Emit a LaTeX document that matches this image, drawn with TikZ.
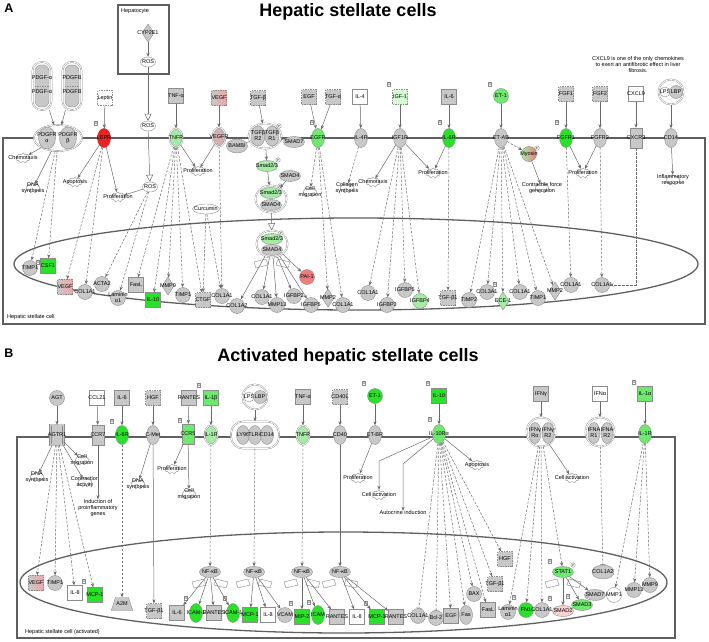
\documentclass[tikz,border=0pt]{standalone}
\usepackage{fontspec}
\setmainfont{Liberation Sans}
\usetikzlibrary{shapes.geometric,shapes.symbols,arrows.meta}
\definecolor{gfill}{RGB}{200,200,200}
\definecolor{gline}{RGB}{140,140,140}
\definecolor{edge}{RGB}{105,105,105}
\definecolor{wall}{RGB}{95,95,95}
\definecolor{hiG}{RGB}{40,225,40}
\definecolor{midG}{RGB}{110,232,110}
\definecolor{loG}{RGB}{165,235,165}
\definecolor{paleG}{RGB}{212,250,212}
\definecolor{hiR}{RGB}{235,35,35}
\definecolor{loR}{RGB}{240,125,125}
\newcommand{\lbl}{\fontsize{5.5}{6}\selectfont}

\begin{document}
\begin{tikzpicture}[x=1pt, y=-1pt,
	gc/.style={circle, fill=gfill, draw=gline, minimum size=15pt, inner sep=0pt},
	ge/.style={ellipse, fill=gfill, draw=gline, minimum width=13pt, minimum height=19pt, inner sep=0pt},
	gh/.style={ellipse, fill=gfill, draw=gline, minimum width=21pt, minimum height=11pt, inner sep=0pt},
	gb/.style={rectangle, fill=gfill, draw=gline, minimum size=15pt, inner sep=0pt},
	gd/.style={diamond, fill=gfill, draw=gline, minimum width=12pt, minimum height=18pt, inner sep=0pt},
	gt/.style={trapezium, trapezium left angle=72, trapezium right angle=72, fill=gfill, draw=gline, minimum width=15pt, minimum height=13pt, inner sep=1pt},
	wc/.style={ellipse, fill=white, draw=gline, minimum width=15pt, minimum height=10pt, inner sep=0pt},
	rc/.style={ellipse, fill=white, draw=gline, double=white, double distance=0.8pt, inner sep=0pt},
	cx/.style={rectangle, rounded corners=9pt, fill=white, draw=gline, double=white, double distance=0.8pt, inner sep=0pt},
	cxin/.style={rectangle, rounded corners=6pt, fill=gfill, draw=gline, inner sep=0pt},
	ring/.style={double=white, double distance=0.8pt},
	dsh/.style={dash pattern=on 1.5pt off 1pt},
	proc/.style={cloud, cloud puffs=9, aspect=1.3, fill=white, draw=gline, minimum width=14pt, minimum height=10pt, inner sep=0pt},
	num/.style={rectangle, fill=white, draw=gline, font=\fontsize{3.5}{4}\selectfont, inner sep=0.6pt},
	pm/.style={circle, fill=white, draw=gline, font=\fontsize{3}{3}\selectfont, inner sep=0.3pt, minimum size=4.5pt},
	txt/.style={font=\lbl, align=center, inner sep=0pt},
	ttl/.style={font=\fontsize{18}{20}\selectfont\bfseries},
	tag/.style={font=\fontsize{12.5}{14}\selectfont\bfseries},
	wallline/.style={draw=wall, line width=1.3pt},
	wing/.style={draw=gline, fill=white, line width=0.4pt},
	act/.style={draw=edge, line width=0.5pt, -{Stealth[length=4pt, width=3.2pt]}},
	dact/.style={act, dash pattern=on 2.5pt off 1.5pt},
	inh/.style={draw=edge, line width=0.5pt, -{Bar[width=5pt]}},
	dinh/.style={inh, dash pattern=on 2.5pt off 1.5pt},
	opn/.style={draw=edge, line width=0.5pt, -{Triangle[open, length=7pt, width=7pt]}},
	lnk/.style={draw=edge, line width=0.5pt},
	every label/.style={font=\lbl, align=center, inner sep=0pt},
	dna/.pic={\draw[wing] (-18,0) -- (-6,-3) -- (-4,3) -- (-16,6) -- cycle; \draw[wing] (18,0) -- (6,-3) -- (4,3) -- (16,6) -- cycle;}
]

\useasboundingbox (0,0) rectangle (709,642);

\node at (9,8) (tagA) [tag] {A};
\node at (348,12) (ttlA) [ttl] {Hepatic stellate cells};
\draw[wallline] (3,138) rectangle (705,324);
\draw[wallline] (356,264) ellipse [x radius=342pt, y radius=46pt];
\node at (7,317) (cellA) [txt, anchor=west] {Hepatic stellate cell};
\node at (143.5,39.5) (hepat) [draw=wall, line width=1.2pt, minimum width=51pt, minimum height=69pt, inner sep=0pt] {};
\node at (121,11) (hepatl) [txt, anchor=west] {Hepatocyte};
\node at (148,33) (cyp) [gd, label=center:CYP2E1] {};
\node at (148,62) (rosh) [wc, label=center:ROS] {};
\node at (148,126) (rosm) [wc, label=center:ROS] {};
\node at (150,187) (rosc) [wc, label=center:ROS] {};

\node at (42,86) (pdgfa) [cx, minimum width=19pt, minimum height=48pt] {};
\node at (42,86) (pdgfai) [cxin, minimum width=14pt, minimum height=42pt] {};
\node at (42,78) (pdgfa1) [txt] {PDGF-α};
\node at (42,92) (pdgfa2) [txt] {PDGF-α};
\node at (72,86) (pdgfb) [cx, minimum width=19pt, minimum height=48pt] {};
\node at (72,86) (pdgfbi) [cxin, minimum width=14pt, minimum height=42pt] {};
\node at (72,78) (pdgfb1) [txt] {PDGFB};
\node at (72,92) (pdgfb2) [txt] {PDGFB};
\draw[draw=gline, dsh] (pdgfai.west) -- (pdgfai.east);
\draw[draw=gline, dsh] (pdgfbi.west) -- (pdgfbi.east);
\node at (58,138) (pdgfr) [rc, minimum width=48pt, minimum height=26pt] {};
\node at (47,138) (pdgfra) [ge, minimum width=17pt, minimum height=22pt, label={center:PDGFR\\α}] {};
\node at (68,138) (pdgfrb) [ge, minimum width=17pt, minimum height=22pt, label={center:PDGFR\\β}] {};

\node at (96,123) (nA1) [num] {1};
\node at (105,98) (leptin) [gb, fill=white, dsh, label=center:Leptin] {};
\node at (104,138) (lepr) [ge, fill=hiR, draw=hiR!80!black, label=center:LEPR] {};
\node at (176,96) (tnfa) [gb, label=center:TNF-α] {};
\node at (176,138) (tnfr) [ge, ring, fill=loG, label=center:TNFR] {};
\node at (219,98) (vegf) [gb, dsh, left color=gfill, right color=loR!70, label=center:VEGF] {};
\node at (219,137) (vegfr) [ge, ring, fill=gfill!70!loR, label=center:VEGFR] {};
\node at (237,146) (bambi) [gh, minimum height=14pt, label=center:BAMBI] {};
\node at (258,98) (tgfb) [gb, dsh, label=center:TGF-β] {};
\node at (265,136) (tgfbr) [rc, minimum width=33pt, minimum height=25pt] {};
\node at (258,136) (tgfbr2) [ge, minimum width=14pt, minimum height=20pt, label={center:TGFβ\\R2}] {};
\node at (272,136) (tgfbr1) [ge, minimum width=14pt, minimum height=20pt, label={center:TGFβ\\R1}] {};
\node at (279,126) (ptgf) [pm] {P};
\node at (294,142) (smad7) [gh, label=center:SMAD7] {};
\node at (309,97) (egf) [gb, dsh, label=center:EGF] {};
\node at (333,97) (tgfa) [gb, dsh, label=center:TGF-α] {};
\node at (312,122) (nA2) [num] {1};
\node at (318,138) (egfr) [ge, fill=midG, label=center:EGFR] {};
\node at (360,97) (il4) [gb, fill=white, label=center:IL-4] {};
\node at (361,138) (il4r) [ge, label=center:IL-4R] {};
\node at (389,84) (nA3) [num] {1};
\node at (400,97) (igf1) [gb, dsh, fill=paleG, label=center:IGF-1] {};
\node at (400,138) (igf1r) [ge, label=center:IGF1R] {};
\node at (440,122) (nA4) [num] {1};
\node at (449,97) (il6) [gb, label=center:IL-6] {};
\node at (449,138) (il6r) [ge, fill=hiG, label=center:IL-6R] {};
\node at (490,84) (nA5) [num] {1};
\node at (501,96) (et1) [gc, fill=midG, label=center:ET-1] {};
\node at (501,138) (etab) [ge, label=center:ET-AB] {};
\node at (529,154) (myosin) [gc, left color=loG, right color=loR, label=center:Myosin] {};
\node at (537,148) (pmyo) [pm] {P};
\node at (557,122) (nA6) [num] {1};
\node at (566,94) (fgf1) [gb, dsh, label=center:FGF1] {};
\node at (566,138) (fgfr1) [ge, fill=hiG, label=center:FGFR1] {};
\node at (600,94) (fgf2) [gb, dsh, label=center:FGF2] {};
\node at (600,138) (fgfr2) [ge, label=center:FGFR2] {};
\node at (636,94) (cxcl9) [gb, fill=white, label=center:CXCL9] {};
\node at (636,138) (cxcr3) [gb, minimum width=12pt, minimum height=20pt, label=center:CXCR3] {};
\node at (671,92) (lpsa) [rc, minimum size=25pt] {};
\node at (665,92) (lpsa1) [circle, fill=white, draw=gline, minimum size=10pt, inner sep=0pt, label=center:LPS] {};
\node at (676,92) (lpsa2) [gc, minimum size=13pt, label=center:LBP] {};
\node at (671,138) (cd14) [ge, label=center:CD14] {};
\node at (638,65) (note) [txt] {CXCL9 is one of the only chemokines\\to exert an antifibrotic effect in liver\\fibrosis.};

\node at (23,158) (chemo1) [proc, label=center:Chemotaxis] {};
\node at (33,188) (dna1) [proc, label={center:DNA\\synthesis}] {};
\node at (75,182) (apop1) [proc, label=center:Apoptosis] {};
\node at (118,197) (prol1) [proc, label=center:Proliferation] {};
\node at (198,171) (prol2) [proc, label=center:Proliferation] {};
\node at (206,209) (curc) [wc, minimum width=27pt, label=center:Curcumin] {};
\node at (267,166) (smad23a) [gh, fill=loG, label=center:Smad2/3] {};
\node at (278,160) (psm1) [pm] {P};
\node at (290,176) (smad4a) [gh, label=center:SMAD4] {};
\node at (271,199) (smcx1) [rc, minimum width=31pt, minimum height=27pt] {};
\node at (271,193) (sm23c) [gh, fill=loG, label=center:Smad2/3] {};
\node at (271,205) (sm4c) [gh, label=center:SMAD4] {};
\node at (280,186) (psm2) [pm] {P};
\node at (310,192) (cellmig1) [proc, label={center:Cell\\migration}] {};
\node at (347,188) (colsyn) [proc, label={center:Collagen\\synthesis}] {};
\node at (373,182) (chemo2) [proc, label=center:Chemotaxis] {};
\node at (433,173) (prol3) [proc, label=center:Proliferation] {};
\node at (542,188) (contr) [proc, label={center:Contractile force\\generation}] {};
\node at (583,173) (prol4) [proc, label=center:Proliferation] {};
\node at (673,180) (inflam) [proc, label={center:Inflammatory\\response}] {};

\node at (272,244) (smcx2) [rc, minimum width=31pt, minimum height=27pt] {};
\node at (272,239) (sm23n) [gh, fill=loG, label=center:Smad2/3] {};
\node at (272,250) (sm4n) [gh, label=center:SMAD4] {};
\node at (281,233) (psm3) [pm] {P};
\pic at (272,262) {dna};
\node at (307,277) (pai1) [gc, fill=loR, label=center:PAI-1] {};
\node at (30,268) (timpa1) [gc, label=center:TIMP1] {};
\node at (38,262) (nA7) [num] {1};
\node at (48,266) (csf1) [gb, fill=hiG, label=center:CSF1] {};
\node at (65,287) (vegfn) [gb, dsh, left color=gfill, right color=loR!70, label=center:VEGF] {};
\node at (85,292) (col1a1a) [gc, label=center:COL1A1] {};
\node at (102,284) (acta2) [gc, label=center:ACTA2] {};
\node at (118,298) (lamina) [gc, label={center:Laminin\\α1}] {};
\node at (136,285) (fasl) [gb, label=center:FasL] {};
\node at (153,300) (il10a) [gb, fill=hiG, label=center:IL-10] {};
\node at (168,286) (mmp9a) [gd, label=center:MMP9] {};
\node at (183,295) (timpa2) [gc, label=center:TIMP1] {};
\node at (203,300) (ctgf) [gb, dsh, label=center:CTGF] {};
\node at (222,296) (col1a1b) [gc, label=center:COL1A1] {};
\node at (237,306) (col1a2a) [gc, label=center:COL1A2] {};
\node at (262,297) (col1a1c) [gc, label=center:COL1A1] {};
\node at (277,305) (mmp13a) [gc, label=center:MMP13] {};
\node at (294,296) (igfbp3a) [gc, label=center:IGFBP3] {};
\node at (311,305) (igfbp5a) [gc, label=center:IGFBP5] {};
\node at (328,298) (mmp2a) [gd, label=center:MMP2] {};
\node at (343,305) (col1a1d) [gc, label=center:COL1A1] {};
\node at (368,293) (col1a1e) [gc, label=center:COL1A1] {};
\node at (387,305) (igfbp3b) [gc, label=center:IGFBP3] {};
\node at (405,290) (igfbp5b) [gc, label=center:IGFBP5] {};
\node at (420,301) (igfbp4) [gc, fill=loG, label=center:IGFBP4] {};
\node at (448,298) (tgfb1a) [gb, dsh, label=center:TGF-β1] {};
\node at (469,300) (timp2) [gc, label=center:TIMP2] {};
\node at (487,292) (col3a1) [gc, label=center:COL3A1] {};
\node at (495,284) (nA8) [num] {1};
\node at (503,301) (ece1) [gd, fill=loG, label=center:ECE-1] {};
\node at (520,292) (col1a1f) [gc, label=center:COL1A1] {};
\node at (538,298) (timpa3) [gc, label=center:TIMP1] {};
\node at (555,291) (mmp2b) [gd, label=center:MMP2] {};
\node at (571,285) (col1a1g) [gc, label=center:COL1A1] {};
\node at (602,285) (col1a1h) [gc, label=center:COL1A1] {};

\draw[act] (pdgfa) -- (pdgfr);
\draw[act] (pdgfb) -- (pdgfr);
\draw[act] (pdgfr) -- (chemo1);
\draw[act] (pdgfr) -- (dna1);
\draw[dact] (pdgfr) -- (timpa1);
\draw[dact] (pdgfr) -- (csf1);
\draw[act] (leptin) -- (lepr);
\draw[act] (lepr) -- (apop1);
\draw[act] (lepr) -- (prol1);
\draw[dact] (lepr) -- (vegfn);
\draw[dact] (lepr) -- (col1a1a);
\draw[act] (cyp) -- (rosh);
\draw[opn] (rosh) -- (rosm);
\draw[opn] (rosm) -- (rosc);
\draw[act] (rosc) -- (prol1);
\draw[dact] (rosc) -- (acta2);
\draw[dact] (rosc) -- (lamina);
\draw[act] (tnfa) -- (tnfr);
\draw[act] (tnfr) -- (prol2);
\draw[dact] (tnfr) -- (fasl);
\draw[dact] (tnfr) -- (il10a);
\draw[dact] (tnfr) -- (mmp9a);
\draw[dact] (tnfr) -- (timpa2);
\draw[dact] (tnfr) -- (ctgf);
\draw[act] (vegf) -- (vegfr);
\draw[act] (vegfr) -- (prol2);
\draw[dact] (vegfr) -- (col1a1b);
\draw[dact] (curc) -- (ctgf);
\draw[dact] (curc) -- (col1a1b);
\draw[act] (tgfb) -- (tgfbr);
\draw[lnk] (bambi) -- (tgfbr);
\draw[inh] (smad7) -- (tgfbr);
\draw[act] (tgfbr) -- (smad23a);
\draw[act] (smad23a) -- (smcx1);
\draw[act] (smad4a) -- (smcx1);
\draw[opn] (smcx1) -- (smcx2);
\draw[act] (smcx2) -- (col1a2a);
\draw[act] (smcx2) -- (col1a1c);
\draw[act] (smcx2) -- (mmp13a);
\draw[act] (smcx2) -- (igfbp3a);
\draw[act] (smcx2) -- (igfbp5a);
\draw[act] (smcx2) -- (pai1);
\draw[act] (egf) -- (egfr);
\draw[act] (tgfa) -- (egfr);
\draw[dact] (egfr) -- (cellmig1);
\draw[dact] (egfr) -- (mmp2a);
\draw[dact] (egfr) -- (col1a1d);
\draw[act] (il4) -- (il4r);
\draw[dact] (il4r) -- (colsyn);
\draw[act] (igf1) -- (igf1r);
\draw[act] (igf1r) -- (chemo2);
\draw[act] (igf1r) -- (prol3);
\draw[dact] (igf1r) -- (col1a1e);
\draw[dact] (igf1r) -- (igfbp3b);
\draw[dact] (igf1r) -- (igfbp5b);
\draw[dact] (igf1r) -- (igfbp4);
\draw[act] (il6) -- (il6r);
\draw[act] (il6r) -- (prol3);
\draw[dact] (il6r) -- (tgfb1a);
\draw[act] (et1) -- (etab);
\draw[dact] (etab) -- (myosin);
\draw[act] (myosin) -- (contr);
\draw[dact] (etab) -- (timp2);
\draw[dact] (etab) -- (col3a1);
\draw[dact] (etab) -- (ece1);
\draw[dact] (etab) -- (col1a1f);
\draw[dact] (etab) -- (timpa3);
\draw[dact] (etab) -- (mmp2b);
\draw[act] (fgf1) -- (fgfr1);
\draw[act] (fgfr1) -- (prol4);
\draw[dact] (fgfr1) -- (col1a1g);
\draw[act] (fgf2) -- (fgfr2);
\draw[act] (fgfr2) -- (prol4);
\draw[dact] (fgfr2) -- (col1a1h);
\draw[act] (cxcl9) -- (cxcr3);
\draw[dact] (cxcr3) |- (col1a1h);
\draw[act] (lpsa) -- (cd14);
\draw[act] (cd14) -- (inflam);

\node at (9,353) (tagB) [tag] {B};
\node at (348,357) (ttlB) [ttl] {Activated hepatic stellate cells};
\draw[wallline] (17,437) rectangle (675,638);
\draw[wallline] (343.5,582.5) ellipse [x radius=323.5pt, y radius=50.5pt];
\node at (25,632) (cellB) [txt, anchor=west] {Hepatic stellate cell (activated)};

\node at (57,398) (agt) [gc, label=center:AGT] {};
\node at (97,398) (ccl21) [gb, fill=white, label=center:CCL21] {};
\node at (122,398) (il6b) [gb, label=center:IL-6] {};
\node at (112,421) (nB1) [num] {1};
\node at (153,398) (hgfb) [gb, dsh, label=center:HGF] {};
\node at (199,385) (nB2) [num] {1};
\node at (189,398) (rantes) [gb, label=center:RANTES] {};
\node at (211,398) (il1b) [gb, fill=midG, label=center:IL-1β] {};
\node at (180,420) (nB3) [num] {1};
\node at (255,397) (lpsb) [rc, minimum size=25pt] {};
\node at (249,397) (lpsb1) [circle, fill=white, draw=gline, minimum size=10pt, inner sep=0pt, label=center:LPS] {};
\node at (260,397) (lpsb2) [gc, minimum size=13pt, label=center:LBP] {};
\node at (303,397) (tnfab) [gb, label=center:TNF-α] {};
\node at (340,397) (cd40l) [gb, dsh, label=center:CD40L] {};
\node at (364,383) (nB4) [num] {1};
\node at (375,396) (et1b) [gc, fill=hiG, label=center:ET-1] {};
\node at (428,383) (nB5) [num] {1};
\node at (439,396) (il10) [gb, fill=hiG, label=center:IL-10] {};
\node at (430,419) (nB6) [num] {1};
\node at (541,394) (ifng) [gb, label=center:IFNγ] {};
\node at (600,394) (ifna) [gb, fill=white, label=center:IFNα] {};
\node at (634,382) (nB7) [num] {1};
\node at (645,394) (il1a) [gb, fill=midG, label=center:IL-1α] {};

\node at (57,435) (agtr1) [gb, minimum width=13pt, minimum height=20pt, double=gfill, double distance=1.5pt, label=center:AGTR1] {};
\node at (98,435) (ccr7) [gb, minimum width=12pt, minimum height=20pt, label=center:CCR7] {};
\node at (122,435) (il6rb) [ge, fill=hiG, label=center:IL-6R] {};
\node at (153,435) (cmet) [ge, label=center:C-Met] {};
\node at (188,434) (ccr5) [gb, fill=midG, minimum width=12pt, minimum height=20pt, label=center:CCR5] {};
\node at (211,435) (il1rb) [ge, ring, fill=loG, label=center:IL-1R] {};
\node at (255,435) (ly96) [cx, minimum width=48pt, minimum height=27pt, rounded corners=12pt] {};
\node at (243,435) (ly96a) [ge, label=center:LY96] {};
\node at (255,435) (ly96b) [ge, label=center:TLR4] {};
\node at (267,435) (ly96c) [ge, label=center:CD14] {};
\node at (303,435) (tnfrb) [ge, ring, fill=loG, label=center:TNFR] {};
\node at (340,435) (cd40) [ge, label=center:CD40] {};
\node at (375,435) (etbr) [ge, label=center:ET-BR] {};
\node at (439,434) (il10r) [ge, fill=midG, label=center:IL-10Rα] {};
\node at (541,432) (ifngr) [rc, minimum size=29pt] {};
\node at (535,433) (ifngr1) [ge, minimum width=12pt, minimum height=21pt, label={center:IFNγ\\Rα}] {};
\node at (548,433) (ifngr2) [ge, minimum width=12pt, minimum height=21pt, label={center:IFNγ\\R2}] {};
\node at (600,432) (ifnar) [rc, minimum size=29pt] {};
\node at (594,433) (ifnar1) [ge, minimum width=12pt, minimum height=21pt, label={center:IFNA\\R1}] {};
\node at (607,433) (ifnar2) [ge, minimum width=12pt, minimum height=21pt, label={center:IFNA\\R2}] {};
\node at (645,434) (il1r2) [ge, fill=midG, label=center:IL-1R] {};

\node at (37,477) (dnab1) [proc, label={center:DNA\\synthesis}] {};
\node at (82,460) (cellmigb1) [proc, label={center:Cell\\migration}] {};
\node at (85,482) (contrb) [proc, label={center:Contraction\\activity}] {};
\node at (98,508) (induc) [txt] {Induction of\\proinflammatory\\genes};
\node at (138,484) (dnab2) [proc, label={center:DNA\\synthesis}] {};
\node at (172,469) (prolb1) [proc, label=center:Proliferation] {};
\node at (189,494) (cellmigb2) [proc, label={center:Cell\\migration}] {};
\node at (358,478) (prolb2) [proc, label=center:Proliferation] {};
\node at (379,495) (cellactb1) [proc, label=center:Cell activation] {};
\node at (403,513) (autoc) [txt] {Autocrine induction};
\node at (477,465) (apopb) [proc, label=center:Apoptosis] {};
\node at (572,478) (cellactb2) [proc, label=center:Cell activation] {};
\coordinate (bend1) at (379,461);
\coordinate (bend2) at (403,464);

\node at (36,583) (vegfb) [gb, dsh, left color=gfill, right color=loR!70, label=center:VEGF] {};
\node at (55,583) (timp1b) [gc, label=center:TIMP1] {};
\node at (75,593) (il8b1) [gb, fill=white, label=center:IL-8] {};
\node at (84,581) (nB8) [num] {1};
\node at (95,595) (mcp1b1) [gb, fill=hiG, label=center:MCP-1] {};
\node at (122,604) (a2m) [gt, label=center:A2M] {};
\node at (154,611) (tgfb1b) [gb, dsh, label=center:TGF-β1] {};
\node at (210,572) (nfkb1) [gh, label=center:NF-κB] {};
\node at (254,572) (nfkb2) [gh, label=center:NF-κB] {};
\node at (302,572) (nfkb3) [gh, label=center:NF-κB] {};
\node at (340,572) (nfkb4) [gh, label=center:NF-κB] {};
\pic at (210,582) {dna};
\pic at (254,582) {dna};
\pic at (302,582) {dna};
\pic at (340,582) {dna};
\node at (177,613) (il6n) [gb, label=center:IL-6] {};
\node at (186,598) (nB9) [num] {1};
\node at (196,613) (icam1) [ge, fill=hiG, label=center:ICAM-1] {};
\node at (214,613) (rantesn1) [gb, label=center:RANTES] {};
\node at (225,598) (nB10) [num] {1};
\node at (233,613) (icam2) [ge, fill=hiG, label=center:ICAM-1] {};
\node at (250,615) (mcp1n) [gb, fill=hiG, label=center:MCP-1] {};
\node at (268,615) (il8n) [gb, fill=white, label=center:IL-8] {};
\node at (285,615) (vcam) [gc, label=center:VCAM] {};
\node at (291,603) (nB11) [num] {1};
\node at (302,617) (mip2) [gb, fill=hiG, label=center:MIP-2] {};
\node at (309,602) (nB12) [num] {1};
\node at (318,615) (icam3) [ge, fill=hiG, label=center:ICAM] {};
\node at (337,617) (rantesn2) [gb, label=center:RANTES] {};
\node at (357,617) (il8n2) [gb, fill=white, label=center:IL-8] {};
\node at (366,603) (nB13) [num] {1};
\node at (377,617) (mcp1n2) [gb, fill=hiG, label=center:MCP-1] {};
\node at (396,617) (rantesn3) [gb, label=center:RANTES] {};
\node at (418,616) (col1ab) [gc, label=center:COL1A1] {};
\node at (436,618) (bcl2) [gc, label=center:Bcl-2] {};
\node at (451,616) (egfb) [gb, label=center:EGF] {};
\node at (466,615) (fasb) [ge, label=center:Fas] {};
\node at (474,594) (baxb) [gc, label=center:BAX] {};
\node at (505,559) (hgfn) [gb, dsh, label=center:HGF] {};
\node at (495,584) (tgfb1n) [gb, dsh, label=center:TGF-β1] {};
\node at (488,610) (fasln) [gb, label=center:FasL] {};
\node at (514,597) (nB14) [num] {1};
\node at (508,612) (laminb) [gc, label={center:Laminin\\α1}] {};
\node at (526,610) (fn1) [gc, fill=hiG, label=center:FN1] {};
\node at (542,610) (col1ab2) [gc, label=center:COL1A1] {};
\node at (550,598) (nB15) [num] {1};
\node at (563,611) (smad2) [gh, fill=loR!35, label=center:SMAD2] {};
\node at (582,605) (smad3) [gh, fill=midG, label=center:SMAD3] {};
\node at (568,596) (nB16) [num] {1};
\node at (563,572) (stat1) [gh, fill=midG, label=center:STAT1] {};
\node at (550,561) (nB17) [num] {1};
\node at (573,565) (pst1) [pm] {P};
\pic at (563,582) {dna};
\node at (595,595) (smad7b) [gh, label=center:SMAD7] {};
\node at (603,572) (col1a2b) [gh, minimum width=22pt, minimum height=14pt, label=center:COL1A2] {};
\node at (614,595) (mmp1) [gc, fill=white, label=center:MMP1] {};
\node at (634,590) (mmp13b) [gc, label=center:MMP13] {};
\node at (650,585) (mmp9b) [gc, label=center:MMP9] {};

\draw[act] (agt) -- (agtr1);
\draw[act] (ccl21) -- (ccr7);
\draw[act] (il6b) -- (il6rb);
\draw[act] (hgfb) -- (cmet);
\draw[act] (rantes) -- (ccr5);
\draw[act] (il1b) -- (il1rb);
\draw[act] (lpsb) -- (ly96);
\draw[act] (tnfab) -- (tnfrb);
\draw[act] (cd40l) -- (cd40);
\draw[act] (et1b) -- (etbr);
\draw[act] (il10) -- (il10r);
\draw[act] (ifng) -- (ifngr);
\draw[act] (ifna) -- (ifnar);
\draw[act] (il1a) -- (il1r2);
\draw[act] (agtr1) -- (dnab1);
\draw[act] (agtr1) -- (cellmigb1);
\draw[act] (agtr1) -- (contrb);
\draw[act] (ccr7) -- (induc);
\draw[dact] (agtr1) -- (vegfb);
\draw[dact] (agtr1) -- (timp1b);
\draw[dact] (agtr1) -- (il8b1);
\draw[dact] (agtr1) -- (mcp1b1);
\draw[dact] (il6rb) -- (a2m);
\draw[act] (cmet) -- (dnab2);
\draw[act] (cmet) -- (tgfb1b);
\draw[act] (ccr5) -- (prolb1);
\draw[act] (ccr5) -- (cellmigb2);
\draw[dact] (il1rb) -- (nfkb1);
\draw[dact] (ly96) -- (nfkb2);
\draw[dact] (tnfrb) -- (nfkb3);
\draw[act] (cd40) -- (nfkb4);
\draw[act] (etbr) -- (prolb2);
\draw[act] (il10r) -- (bend1) -- (cellactb1);
\draw[act] (il10r) -- (bend2) -- (autoc);
\draw[act] (il10r) -- (apopb);
\draw[dinh] (il10r) -- (col1ab);
\draw[dinh] (il10r) -- (bcl2);
\draw[dact] (il10r) -- (egfb);
\draw[dact] (il10r) -- (fasb);
\draw[dact] (il10r) -- (baxb);
\draw[dact] (il10r) -- (fasln);
\draw[dact] (il10r) -- (tgfb1n);
\draw[dact] (il10r) -- (hgfn);
\draw[act] (ifngr) -- (cellactb2);
\draw[dact] (ifngr) -- (laminb);
\draw[dact] (ifngr) -- (fn1);
\draw[dact] (ifngr) -- (col1ab2);
\draw[dact] (ifngr) -- (stat1);
\draw[dinh] (ifnar) -- (col1a2b);
\draw[dact] (il1r2) -- (mmp1);
\draw[dact] (il1r2) -- (mmp13b);
\draw[dact] (il1r2) -- (mmp9b);
\draw[act] (nfkb1) -- (il6n);
\draw[act] (nfkb1) -- (icam1);
\draw[act] (nfkb1) -- (rantesn1);
\draw[act] (nfkb1) -- (icam2);
\draw[act] (nfkb2) -- (mcp1n);
\draw[act] (nfkb2) -- (il8n);
\draw[act] (nfkb2) -- (vcam);
\draw[act] (nfkb3) -- (mip2);
\draw[act] (nfkb3) -- (icam3);
\draw[act] (nfkb3) -- (rantesn2);
\draw[act] (nfkb4) -- (il8n2);
\draw[act] (nfkb4) -- (mcp1n2);
\draw[act] (nfkb4) -- (rantesn3);
\draw[act] (stat1) -- (smad2);
\draw[act] (stat1) -- (smad3);
\draw[act] (stat1) -- (smad7b);

\end{tikzpicture}
\end{document}
